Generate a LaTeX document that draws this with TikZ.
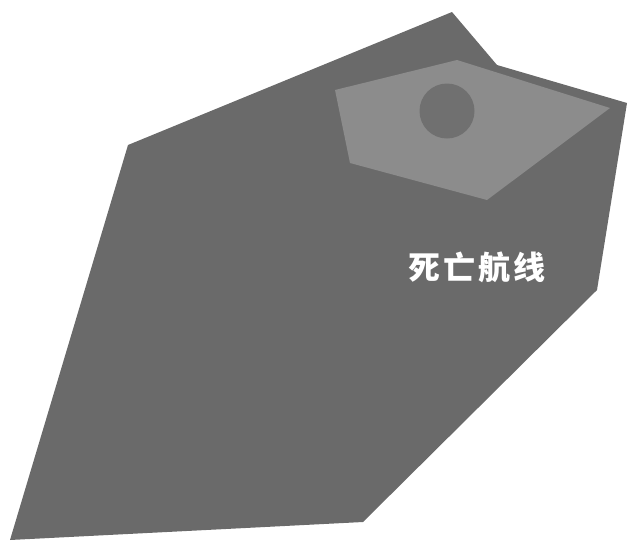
\documentclass[tikz,border=0pt]{standalone}
\usepackage{fontspec}
\newfontfamily\cjk{Noto Sans CJK SC}
\definecolor{darkgrey}{RGB}{106,106,106}
\definecolor{lightgrey}{RGB}{140,140,140}
\definecolor{spotgrey}{RGB}{112,112,112}
\tikzset{
	plate/.style={fill=darkgrey,draw=none},
	patch/.style={fill=lightgrey,draw=none},
	title/.style={text=white,font=\cjk\bfseries\fontsize{32}{32}\selectfont,inner sep=0pt}
}
\begin{document}
\begin{tikzpicture}[x=1pt,y=-1pt]
	\useasboundingbox (0,0) rectangle (628,541);
	\fill[plate] (128,145)--(452,12)--(497,65)--(627,103)%
	--(597,290)--(363,522)--(10,540)--cycle;
	\fill[patch] (335,90)--(457,60)--(610,108)--(487,200)--(350,163)--cycle;
	\fill[spotgrey] (447,111) circle (27.5);%spot
	\node[title] (t) at (477,267) {死\hspace{3pt}亡\hspace{3pt}航\hspace{3pt}线};
	
\end{tikzpicture}
\end{document}
